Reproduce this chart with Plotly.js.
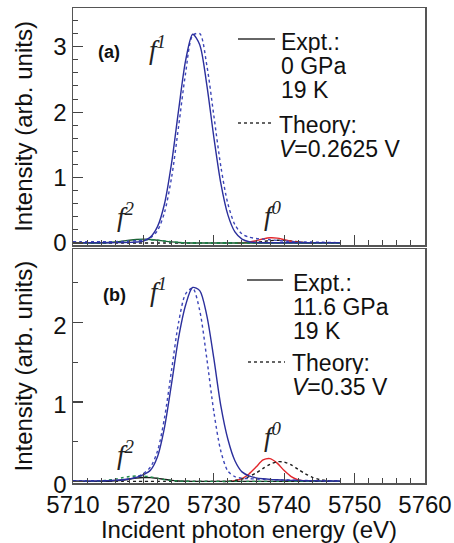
<!DOCTYPE html>
<html>
<head>
<meta charset="utf-8">
<script src="https://cdn.plot.ly/plotly-3.0.1.min.js"></script>
<style>html,body{margin:0;padding:0;background:#fff;}#chart{width:454px;height:543px;}</style>
</head>
<body>
<div id="chart"></div>
<script>
// ---- data ----
const energy = [5710,5711,5712,5713,5714,5715,5716,5717,5718,5719,5720,5721,5722,5723,5724,5725,5726,5727,5728,5729,5730,5731,5732,5733,5734,5735,5736,5737,5738,5739,5740,5741,5742,5743,5744,5745,5746,5747,5748];

// panel (a): 0 GPa, 19 K, V = 0.2625 V
const a_expt_f1 = [0.005,0.005,0.005,0.005,0.005,0.005,0.006,0.008,0.01,0.015,0.03,0.09,0.25,0.60,1.22,2.03,2.79,3.19,3.03,2.42,1.62,0.91,0.43,0.17,0.06,0.02,0.008,0.005,0.005,0.005,0.005,0.005,0.005,0.005,0.005,0.005,0.005,0.005,0.005];
const a_theo_f1 = [0.02,0.02,0.02,0.02,0.02,0.02,0.022,0.025,0.03,0.035,0.045,0.08,0.19,0.47,1.0,1.78,2.6,3.17,3.2,2.72,1.95,1.17,0.6,0.28,0.14,0.09,0.07,0.06,0.05,0.04,0.03,0.025,0.02,0.018,0.015,0.012,0.01,0.008,0.005];
const a_expt_f2 = [0,0,0,0,0.003,0.008,0.017,0.029,0.043,0.055,0.06,0.055,0.043,0.029,0.017,0.008,0.003,0,0,0,0,0,0,0,0,0,0,0,0,0,0,0,0,0,0,0,0,0,0];
const a_theo_f2 = [0,0,0,0,0,0.004,0.01,0.02,0.032,0.043,0.05,0.05,0.043,0.032,0.02,0.01,0.004,0,0,0,0,0,0,0,0,0,0,0,0,0,0,0,0,0,0,0,0,0,0];
const a_expt_f0 = [null,null,null,null,null,null,null,null,null,null,null,null,null,null,null,null,null,null,null,null,null,null,null,0,0.004,0.014,0.035,0.062,0.08,0.075,0.052,0.028,0.011,0.003,0,null,null,null,null];
const a_theo_f0 = [0,0,0,0,0,0,0,0,0,0,0,0,0,0,0,0,0,0,0,0,0,0,0,0,0,0.005,0.012,0.024,0.036,0.042,0.04,0.03,0.018,0.008,0.003,0,0,0,0];

// panel (b): 11.6 GPa, 19 K, V = 0.35 V
const b_expt_f1 = [0.005,0.005,0.005,0.006,0.007,0.01,0.014,0.02,0.03,0.05,0.085,0.14,0.31,0.68,1.23,1.81,2.22,2.44,2.40,2.09,1.55,0.95,0.53,0.26,0.12,0.07,0.045,0.033,0.025,0.02,0.016,0.013,0.011,0.009,0.008,0.007,0.006,0.005,0.005];
const b_theo_f1 = [0.01,0.01,0.01,0.01,0.01,0.01,0.012,0.016,0.03,0.055,0.1,0.18,0.38,0.8,1.4,2.0,2.36,2.43,2.15,1.55,0.88,0.38,0.13,0.06,0.04,0.035,0.03,0.026,0.023,0.02,0.018,0.016,0.014,0.012,0.01,0.009,0.008,0.006,0.005];
const b_expt_f2 = [0,0,0,0,0,0.0025,0.007,0.015,0.028,0.041,0.049,0.048,0.038,0.025,0.013,0.006,0.002,0,0,0,0,0,0,0,0,0,0,0,0,0,0,0,0,0,0,0,0,0,0];
const b_theo_f2 = [0,0,0,0.003,0.007,0.016,0.029,0.046,0.061,0.069,0.067,0.056,0.039,0.023,0.012,0.005,0.002,0,0,0,0,0,0,0,0,0,0,0,0,0,0,0,0,0,0,0,0,0,0];
const b_expt_f0 = [null,null,null,null,null,null,null,null,null,null,null,null,null,null,null,null,null,null,null,null,null,null,0,0.01,0.035,0.094,0.18,0.27,0.287,0.23,0.136,0.06,0.019,0.005,0,null,null,null,null];
const b_theo_f0 = [0,0,0,0,0,0,0,0,0,0,0,0,0,0,0,0,0,0,0,0,0,0,0,0.012,0.029,0.06,0.106,0.163,0.216,0.247,0.243,0.207,0.15,0.096,0.052,0.024,0.01,0.003,0];

const xTicks = [5710,5720,5730,5740,5750,5760];
const legendA = ["Expt.:","0 GPa","19 K","Theory:","<i>V</i>=0.2625 V"];
const legendB = ["Expt.:","11.6 GPa","19 K","Theory:","<i>V</i>=0.35 V"];
const yTitle = "Intensity (arb. units)";
const xTitle = "Incident photon energy (eV)";

// ---- styling ----
const BLUE = '#2b2f9c', BLUE_D = '#3d46b8', RED = '#e2262b', GREEN = '#1e8a4a', BLACK = '#1a1a1a';
const SANS = '"Liberation Sans", Arial, sans-serif';
const SERIF = '"Liberation Serif", "Times New Roman", serif';
const W = 454, H = 543, L = 73, R = 425, T = 8, B = 483;
const fx = px => (px - L) / (R - L);
const fy = py => (B - py) / (B - T);

function tr(y, xa, ya, color, dash, name) {
  return {x: energy, y: y, xaxis: xa, yaxis: ya, type: 'scatter', mode: 'lines', name: name,
    showlegend: false, hoverinfo: 'skip', connectgaps: false,
    line: {color: color, width: 1.4, dash: dash, shape: 'spline', smoothing: 0.8}};
}

const data = [
  tr(a_theo_f0, 'x', 'y', BLACK, 'dot', 'a theory f0'),
  tr(a_expt_f0, 'x', 'y', RED, 'solid', 'a expt f0'),
  tr(a_expt_f2, 'x', 'y', '#1d5a33', 'solid', 'a expt f2'),
  tr(a_theo_f2, 'x', 'y', GREEN, 'dot', 'a theory f2'),
  tr(a_theo_f1, 'x', 'y', BLUE_D, 'dot', 'a theory f1'),
  tr(a_expt_f1, 'x', 'y', BLUE, 'solid', 'a expt f1'),
  tr(b_expt_f0, 'x2', 'y2', RED, 'solid', 'b expt f0'),
  tr(b_theo_f0, 'x2', 'y2', BLACK, 'dot', 'b theory f0'),
  tr(b_expt_f2, 'x2', 'y2', BLACK, 'solid', 'b expt f2'),
  tr(b_theo_f2, 'x2', 'y2', GREEN, 'dot', 'b theory f2'),
  tr(b_theo_f1, 'x2', 'y2', BLUE_D, 'dot', 'b theory f1'),
  tr(b_expt_f1, 'x2', 'y2', BLUE, 'solid', 'b expt f1')
];

const axisCommon = {
  showline: true, mirror: true, linecolor: '#555', linewidth: 1.5,
  showgrid: false, zeroline: false, ticks: 'inside', ticklen: 10, tickwidth: 1.2, tickcolor: '#444',
  tickfont: {family: SANS, size: 24, color: '#111'}
};
const minorT = d => ({dtick: d, ticklen: 5, ticks: 'inside', tickcolor: '#444', tickwidth: 1});

const xa = Object.assign({}, axisCommon, {domain: [0, 1], range: [5710, 5760], anchor: 'y',
  tickvals: xTicks, showticklabels: false, minor: minorT(2)});
const xa2 = Object.assign({}, axisCommon, {domain: [0, 1], range: [5710, 5760], anchor: 'y2', matches: 'x',
  tickvals: xTicks, ticktext: xTicks.map(String), minor: minorT(2),
  title: {text: xTitle, font: {family: SANS, size: 24, color: '#111'}, standoff: 10}});
const ya = Object.assign({}, axisCommon, {domain: [fy(245), 1], range: [-0.03, 3.59], anchor: 'x',
  tickvals: [0, 1, 2, 3], minor: minorT(0.2),
  title: {text: yTitle, font: {family: SANS, size: 24, color: '#111'}, standoff: 14}});
const ya2 = Object.assign({}, axisCommon, {domain: [0, fy(249.3)], range: [-0.02, 2.92], anchor: 'x2',
  tickvals: [0, 1, 2], minor: minorT(0.5), ticklabelshift: 3,
  title: {text: yTitle, font: {family: SANS, size: 24, color: '#111'}, standoff: 14}});

function txt(text, px, py, opts) {
  return Object.assign({text: text, xref: 'paper', yref: 'paper', x: fx(px), y: fy(py),
    xanchor: 'left', yanchor: 'middle', showarrow: false, height: 22, valign: 'middle',
    font: {family: SANS, size: 23, color: '#111'}}, opts || {});
}
function flabel(sup, px, py) {
  return {text: '<i>f<sup>' + sup + '</sup></i>', xref: 'paper', yref: 'paper', x: fx(px), y: fy(py),
    xanchor: 'center', yanchor: 'middle', showarrow: false,
    font: {family: SERIF, size: 27, color: '#222'}};
}

const annotations = [
  txt('(a)', 109, 52, {xanchor: 'center', height: undefined, font: {family: SANS, size: 18, color: '#111', weight: 'bold'}}),
  txt('(b)', 114, 295, {xanchor: 'center', height: undefined, font: {family: SANS, size: 18, color: '#111', weight: 'bold'}}),
  txt(legendA[0], 279, 42), txt(legendA[1], 279, 66), txt(legendA[2], 279, 90),
  txt(legendA[3], 277, 125), txt(legendA[4], 277, 149),
  txt(legendB[0], 291, 283), txt(legendB[1], 291, 307), txt(legendB[2], 291, 331),
  txt(legendB[3], 290, 363), txt(legendB[4], 290, 387),
  flabel('1', 157, 48), flabel('2', 126, 215), flabel('0', 273, 214),
  flabel('1', 158, 290), flabel('2', 126, 453), flabel('0', 273, 435)
];

function seg(x0, x1, py, dash) {
  return {type: 'line', xref: 'paper', yref: 'paper', x0: fx(x0), x1: fx(x1), y0: fy(py), y1: fy(py),
    line: {color: '#333', width: 1.3, dash: dash}};
}
const shapes = [
  seg(238, 275, 39, 'solid'), seg(238, 273, 123, 'dot'),
  seg(247, 283, 280, 'solid'), seg(248, 285, 362, 'dot')
];

const layout = {
  width: W, height: H, margin: {l: L, r: W - R, t: T, b: H - B},
  paper_bgcolor: '#fff', plot_bgcolor: '#fff', showlegend: false,
  xaxis: xa, xaxis2: xa2, yaxis: ya, yaxis2: ya2,
  annotations: annotations, shapes: shapes
};

Plotly.newPlot('chart', data, layout, {staticPlot: true, displayModeBar: false});
</script>
</body>
</html>
